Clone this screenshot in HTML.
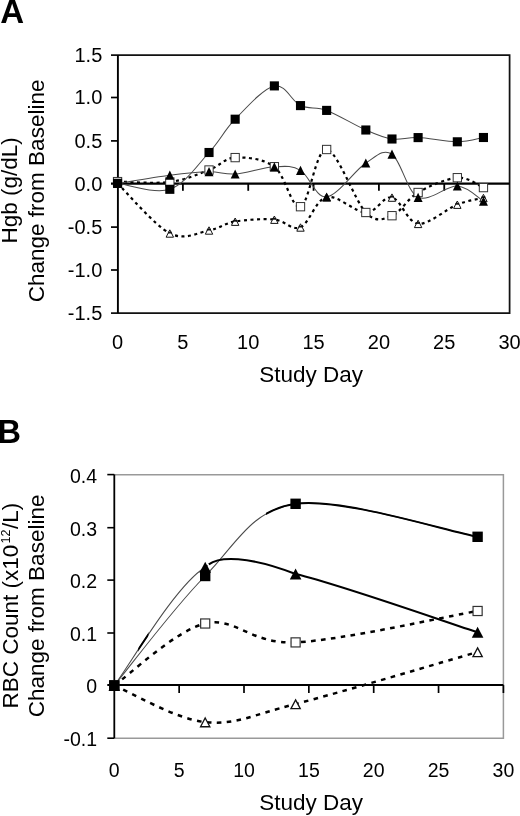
<!DOCTYPE html>
<html><head><meta charset="utf-8"><style>
html,body{margin:0;padding:0;background:#fff;}
body{width:520px;height:816px;overflow:hidden;}
svg{display:block;will-change:transform;}
</style></head><body>
<svg width="520" height="816" viewBox="0 0 520 816">
<text x="0.3" y="22.8" font-family="Liberation Sans, sans-serif" font-weight="bold" font-size="33">A</text>
<text x="102.3" y="61.9" font-family="Liberation Sans, sans-serif" font-size="20" text-anchor="end">1.5</text>
<text x="102.3" y="104.4" font-family="Liberation Sans, sans-serif" font-size="20" text-anchor="end">1.0</text>
<text x="102.3" y="147.8" font-family="Liberation Sans, sans-serif" font-size="20" text-anchor="end">0.5</text>
<text x="102.3" y="190.5" font-family="Liberation Sans, sans-serif" font-size="20" text-anchor="end">0.0</text>
<text x="102.3" y="234.0" font-family="Liberation Sans, sans-serif" font-size="20" text-anchor="end">-0.5</text>
<text x="102.3" y="276.9" font-family="Liberation Sans, sans-serif" font-size="20" text-anchor="end">-1.0</text>
<text x="102.3" y="319.9" font-family="Liberation Sans, sans-serif" font-size="20" text-anchor="end">-1.5</text>
<text x="117.5" y="348.5" font-family="Liberation Sans, sans-serif" font-size="20" text-anchor="middle">0</text>
<text x="182.9" y="348.5" font-family="Liberation Sans, sans-serif" font-size="20" text-anchor="middle">5</text>
<text x="248.2" y="348.5" font-family="Liberation Sans, sans-serif" font-size="20" text-anchor="middle">10</text>
<text x="313.6" y="348.5" font-family="Liberation Sans, sans-serif" font-size="20" text-anchor="middle">15</text>
<text x="378.9" y="348.5" font-family="Liberation Sans, sans-serif" font-size="20" text-anchor="middle">20</text>
<text x="444.2" y="348.5" font-family="Liberation Sans, sans-serif" font-size="20" text-anchor="middle">25</text>
<text x="509.6" y="348.5" font-family="Liberation Sans, sans-serif" font-size="20" text-anchor="middle">30</text>
<text x="311.2" y="381.6" font-family="Liberation Sans, sans-serif" font-size="22.5" text-anchor="middle">Study Day</text>
<text transform="translate(17.1,190.4) rotate(-90)" font-family="Liberation Sans, sans-serif" font-size="22.5" text-anchor="middle">Hgb (g/dL)</text>
<text transform="translate(43.8,190.9) rotate(-90)" font-family="Liberation Sans, sans-serif" font-size="22.5" text-anchor="middle">Change from Baseline</text>
<path d="M111,55 H509.6 V313 H111" fill="none" stroke="#111" stroke-width="1.75"/>
<path d="M117.9,55 V313" fill="none" stroke="#000" stroke-width="1.9"/>
<path d="M111,97.5 H118" stroke="#000" stroke-width="1.7"/>
<path d="M111,140.9 H118" stroke="#000" stroke-width="1.7"/>
<path d="M111,227.1 H118" stroke="#000" stroke-width="1.7"/>
<path d="M111,270.0 H118" stroke="#000" stroke-width="1.7"/>
<path d="M111,183.6 H509.6" stroke="#000" stroke-width="2.1"/>
<path d="M182.89,183.7 V190.8" stroke="#000" stroke-width="1.8"/>
<path d="M248.23,183.7 V190.8" stroke="#000" stroke-width="1.8"/>
<path d="M313.57,183.7 V190.8" stroke="#000" stroke-width="1.8"/>
<path d="M378.91,183.7 V190.8" stroke="#000" stroke-width="1.8"/>
<path d="M444.25,183.7 V190.8" stroke="#000" stroke-width="1.8"/>
<path d="M117.55,183.50 C126.26,191.80 154.58,225.50 169.82,233.30 C185.07,241.10 198.14,232.27 209.03,230.30 C219.92,228.33 224.27,223.30 235.16,221.50 C246.05,219.70 263.48,218.53 274.37,219.50 C285.26,220.47 291.79,231.05 300.50,227.30 C309.21,223.55 315.75,199.47 326.64,197.00 C337.53,194.53 354.95,212.43 365.84,212.50 C376.73,212.57 383.27,195.53 391.98,197.40 C400.69,199.27 407.22,222.52 418.11,223.70 C429.00,224.88 446.43,208.82 457.32,204.50 C468.21,200.18 479.10,198.92 483.45,197.80" fill="none" stroke="#000" stroke-width="2.2" stroke-dasharray="3 3.5"/>
<path d="M117.55,181.60 C126.26,181.67 154.58,183.93 169.82,182.00 C185.07,180.07 198.14,174.07 209.03,170.00 C219.92,165.93 224.27,158.15 235.16,157.60 C246.05,157.05 263.48,158.52 274.37,166.70 C285.26,174.88 291.79,209.57 300.50,206.70 C309.21,203.83 315.75,148.53 326.64,149.50 C337.53,150.47 354.95,201.47 365.84,212.50 C376.73,223.53 383.27,219.03 391.98,215.70 C400.69,212.37 407.22,198.83 418.11,192.50 C429.00,186.17 446.43,178.52 457.32,177.70 C468.21,176.88 479.10,185.95 483.45,187.60" fill="none" stroke="#000" stroke-width="2.2" stroke-dasharray="3 3.5"/>
<path d="M117.55,183.30 C126.26,184.30 154.58,194.43 169.82,189.30 C185.07,184.17 198.14,164.18 209.03,152.50 C219.92,140.82 224.27,130.30 235.16,119.20 C246.05,108.10 263.48,88.17 274.37,85.90 C285.26,83.63 291.79,101.52 300.50,105.60 C309.21,109.68 315.75,106.33 326.64,110.40 C337.53,114.47 354.95,125.23 365.84,130.00 C376.73,134.77 383.27,137.73 391.98,139.00 C400.69,140.27 407.22,137.13 418.11,137.60 C429.00,138.07 446.43,141.82 457.32,141.80 C468.21,141.78 479.10,138.22 483.45,137.50" fill="none" stroke="#4a4a4a" stroke-width="1.05"/>
<path d="M117.55,183.50 C126.26,182.12 154.58,177.17 169.82,175.20 C185.07,173.23 198.14,171.90 209.03,171.70 C219.92,171.50 224.27,174.82 235.16,174.00 C246.05,173.18 263.48,167.40 274.37,166.80 C285.26,166.20 291.79,165.37 300.50,170.40 C309.21,175.43 315.75,198.23 326.64,197.00 C337.53,195.77 354.95,170.13 365.84,163.00 C376.73,155.87 383.27,148.48 391.98,154.20 C400.69,159.92 407.22,192.00 418.11,197.30 C429.00,202.60 446.43,185.35 457.32,186.00 C468.21,186.65 479.10,198.67 483.45,201.20" fill="none" stroke="#4a4a4a" stroke-width="1.05"/>
<path d="M169.82,229.80 L173.52,237.20 L166.12,237.20 Z" fill="#fff" stroke="#111" stroke-width="1.0" stroke-linejoin="miter"/><rect x="167.93" y="231.70" width="3.78" height="1.8" fill="#111"/>
<path d="M209.03,226.80 L212.73,234.20 L205.33,234.20 Z" fill="#fff" stroke="#111" stroke-width="1.0" stroke-linejoin="miter"/><rect x="207.14" y="228.70" width="3.78" height="1.8" fill="#111"/>
<path d="M235.16,218.00 L238.86,225.40 L231.46,225.40 Z" fill="#fff" stroke="#111" stroke-width="1.0" stroke-linejoin="miter"/><rect x="233.27" y="219.90" width="3.78" height="1.8" fill="#111"/>
<path d="M274.37,216.00 L278.07,223.40 L270.67,223.40 Z" fill="#fff" stroke="#111" stroke-width="1.0" stroke-linejoin="miter"/><rect x="272.48" y="217.90" width="3.78" height="1.8" fill="#111"/>
<path d="M300.50,223.80 L304.20,231.20 L296.80,231.20 Z" fill="#fff" stroke="#111" stroke-width="1.0" stroke-linejoin="miter"/><rect x="298.61" y="225.70" width="3.78" height="1.8" fill="#111"/>
<path d="M326.64,193.50 L330.34,200.90 L322.94,200.90 Z" fill="#fff" stroke="#111" stroke-width="1.0" stroke-linejoin="miter"/><rect x="324.75" y="195.40" width="3.78" height="1.8" fill="#111"/>
<path d="M365.84,209.00 L369.54,216.40 L362.14,216.40 Z" fill="#fff" stroke="#111" stroke-width="1.0" stroke-linejoin="miter"/><rect x="363.95" y="210.90" width="3.78" height="1.8" fill="#111"/>
<path d="M391.98,193.90 L395.68,201.30 L388.28,201.30 Z" fill="#fff" stroke="#111" stroke-width="1.0" stroke-linejoin="miter"/><rect x="390.09" y="195.80" width="3.78" height="1.8" fill="#111"/>
<path d="M418.11,220.20 L421.81,227.60 L414.41,227.60 Z" fill="#fff" stroke="#111" stroke-width="1.0" stroke-linejoin="miter"/><rect x="416.22" y="222.10" width="3.78" height="1.8" fill="#111"/>
<path d="M457.32,201.00 L461.02,208.40 L453.62,208.40 Z" fill="#fff" stroke="#111" stroke-width="1.0" stroke-linejoin="miter"/><rect x="455.43" y="202.90" width="3.78" height="1.8" fill="#111"/>
<path d="M483.45,194.30 L487.15,201.70 L479.75,201.70 Z" fill="#fff" stroke="#111" stroke-width="1.0" stroke-linejoin="miter"/><rect x="481.56" y="196.20" width="3.78" height="1.8" fill="#111"/>
<rect x="113.40" y="177.45" width="8.30" height="8.30" fill="#fff" stroke="#333" stroke-width="1.0"/>
<rect x="165.67" y="177.85" width="8.30" height="8.30" fill="#fff" stroke="#333" stroke-width="1.0"/>
<rect x="204.88" y="165.85" width="8.30" height="8.30" fill="#fff" stroke="#333" stroke-width="1.0"/>
<rect x="231.01" y="153.45" width="8.30" height="8.30" fill="#fff" stroke="#333" stroke-width="1.0"/>
<rect x="270.22" y="162.55" width="8.30" height="8.30" fill="#fff" stroke="#333" stroke-width="1.0"/>
<rect x="296.35" y="202.55" width="8.30" height="8.30" fill="#fff" stroke="#333" stroke-width="1.0"/>
<rect x="322.49" y="145.35" width="8.30" height="8.30" fill="#fff" stroke="#333" stroke-width="1.0"/>
<rect x="361.69" y="208.35" width="8.30" height="8.30" fill="#fff" stroke="#333" stroke-width="1.0"/>
<rect x="387.83" y="211.55" width="8.30" height="8.30" fill="#fff" stroke="#333" stroke-width="1.0"/>
<rect x="413.96" y="188.35" width="8.30" height="8.30" fill="#fff" stroke="#333" stroke-width="1.0"/>
<rect x="453.17" y="173.55" width="8.30" height="8.30" fill="#fff" stroke="#333" stroke-width="1.0"/>
<rect x="479.30" y="183.45" width="8.30" height="8.30" fill="#fff" stroke="#333" stroke-width="1.0"/>
<rect x="113.00" y="178.75" width="9.1" height="9.1" fill="#000"/>
<rect x="165.27" y="184.75" width="9.1" height="9.1" fill="#000"/>
<rect x="204.48" y="147.95" width="9.1" height="9.1" fill="#000"/>
<rect x="230.61" y="114.65" width="9.1" height="9.1" fill="#000"/>
<rect x="269.82" y="81.35" width="9.1" height="9.1" fill="#000"/>
<rect x="295.95" y="101.05" width="9.1" height="9.1" fill="#000"/>
<rect x="322.09" y="105.85" width="9.1" height="9.1" fill="#000"/>
<rect x="361.29" y="125.45" width="9.1" height="9.1" fill="#000"/>
<rect x="387.43" y="134.45" width="9.1" height="9.1" fill="#000"/>
<rect x="413.56" y="133.05" width="9.1" height="9.1" fill="#000"/>
<rect x="452.77" y="137.25" width="9.1" height="9.1" fill="#000"/>
<rect x="478.90" y="132.95" width="9.1" height="9.1" fill="#000"/>
<path d="M117.55,178.90 L122.05,188.10 L113.05,188.10 Z" fill="#000"/>
<path d="M169.82,170.60 L174.32,179.80 L165.32,179.80 Z" fill="#000"/>
<path d="M209.03,167.10 L213.53,176.30 L204.53,176.30 Z" fill="#000"/>
<path d="M235.16,169.40 L239.66,178.60 L230.66,178.60 Z" fill="#000"/>
<path d="M274.37,162.20 L278.87,171.40 L269.87,171.40 Z" fill="#000"/>
<path d="M300.50,165.80 L305.00,175.00 L296.00,175.00 Z" fill="#000"/>
<path d="M326.64,192.40 L331.14,201.60 L322.14,201.60 Z" fill="#000"/>
<path d="M365.84,158.40 L370.34,167.60 L361.34,167.60 Z" fill="#000"/>
<path d="M391.98,149.60 L396.48,158.80 L387.48,158.80 Z" fill="#000"/>
<path d="M418.11,192.70 L422.61,201.90 L413.61,201.90 Z" fill="#000"/>
<path d="M457.32,181.40 L461.82,190.60 L452.82,190.60 Z" fill="#000"/>
<path d="M483.45,196.60 L487.95,205.80 L478.95,205.80 Z" fill="#000"/>
<text x="-2.6" y="442.5" font-family="Liberation Sans, sans-serif" font-weight="bold" font-size="32.5">B</text>
<text x="97.0" y="482.5" font-family="Liberation Sans, sans-serif" font-size="19.5" text-anchor="end">0.4</text>
<text x="97.0" y="535.6" font-family="Liberation Sans, sans-serif" font-size="19.5" text-anchor="end">0.3</text>
<text x="97.0" y="588.0" font-family="Liberation Sans, sans-serif" font-size="19.5" text-anchor="end">0.2</text>
<text x="97.0" y="640.9" font-family="Liberation Sans, sans-serif" font-size="19.5" text-anchor="end">0.1</text>
<text x="97.0" y="693.4" font-family="Liberation Sans, sans-serif" font-size="19.5" text-anchor="end">0</text>
<text x="97.0" y="746.1" font-family="Liberation Sans, sans-serif" font-size="19.5" text-anchor="end">-0.1</text>
<text x="114.3" y="776.9" font-family="Liberation Sans, sans-serif" font-size="19.5" text-anchor="middle">0</text>
<text x="179.2" y="776.9" font-family="Liberation Sans, sans-serif" font-size="19.5" text-anchor="middle">5</text>
<text x="244.0" y="776.9" font-family="Liberation Sans, sans-serif" font-size="19.5" text-anchor="middle">10</text>
<text x="308.9" y="776.9" font-family="Liberation Sans, sans-serif" font-size="19.5" text-anchor="middle">15</text>
<text x="373.7" y="776.9" font-family="Liberation Sans, sans-serif" font-size="19.5" text-anchor="middle">20</text>
<text x="438.6" y="776.9" font-family="Liberation Sans, sans-serif" font-size="19.5" text-anchor="middle">25</text>
<text x="503.4" y="776.9" font-family="Liberation Sans, sans-serif" font-size="19.5" text-anchor="middle">30</text>
<text x="311.2" y="810.0" font-family="Liberation Sans, sans-serif" font-size="22.5" text-anchor="middle">Study Day</text>
<text transform="translate(17.9,605.6) rotate(-90)" font-family="Liberation Sans, sans-serif" font-size="22.5" text-anchor="middle">RBC Count (x10<tspan font-size="12.5" dx="1.2" dy="-7.8">12</tspan><tspan dx="0.6" dy="7.8">/L)</tspan></text>
<text transform="translate(44.4,605.9) rotate(-90)" font-family="Liberation Sans, sans-serif" font-size="22.5" text-anchor="middle">Change from Baseline</text>
<path d="M114.3,474.7 H503.4 V738.2 H114.3" fill="none" stroke="#999" stroke-width="1.5"/>
<path d="M114.3,474.6 V738.2" stroke="#000" stroke-width="1.8"/>
<path d="M107.3,474.6 H114.3" stroke="#000" stroke-width="1.6"/>
<path d="M107.3,527.7 H114.3" stroke="#000" stroke-width="1.6"/>
<path d="M107.3,580.1 H114.3" stroke="#000" stroke-width="1.6"/>
<path d="M107.3,633.0 H114.3" stroke="#000" stroke-width="1.6"/>
<path d="M107.3,738.2 H114.3" stroke="#000" stroke-width="1.6"/>
<path d="M107.3,685.1 H503.4" stroke="#000" stroke-width="2"/>
<path d="M179.15,685.1 V693" stroke="#000" stroke-width="1.7"/>
<path d="M244.00,685.1 V693" stroke="#000" stroke-width="1.7"/>
<path d="M308.85,685.1 V693" stroke="#000" stroke-width="1.7"/>
<path d="M373.70,685.1 V693" stroke="#000" stroke-width="1.7"/>
<path d="M438.55,685.1 V693" stroke="#000" stroke-width="1.7"/>
<path d="M503.40,685.1 V693" stroke="#000" stroke-width="1.7"/>
<defs><clipPath id="cfs"><rect x="266" y="400" width="300" height="400"/></clipPath><clipPath id="cft"><rect x="100" y="400" width="108" height="400"/></clipPath><clipPath id="cft2"><rect x="138.2" y="600" width="10.3" height="60"/></clipPath></defs>
<path d="M114.30,685.40 C129.45,691.52 174.98,719.00 205.20,722.10 C235.42,725.20 250.20,715.68 295.60,704.00 C341.00,692.32 447.27,660.67 477.60,652.00" fill="none" stroke="#000" stroke-width="2.5" stroke-dasharray="4.6 5.4"/>
<path d="M114.30,685.40 C129.45,675.08 174.98,630.67 205.20,623.50 C235.42,616.33 250.20,644.48 295.60,642.40 C341.00,640.32 447.27,616.23 477.60,611.00" fill="none" stroke="#000" stroke-width="2.5" stroke-dasharray="4.6 5.4"/>
<path d="M114.30,685.40 C129.45,667.17 174.98,606.27 205.20,576.00 C235.42,545.73 250.20,510.33 295.60,503.80 C341.00,497.27 447.27,531.30 477.60,536.80" fill="none" stroke="#4a4a4a" stroke-width="1.05"/>
<path d="M114.30,685.40 C129.45,667.17 174.98,606.27 205.20,576.00 C235.42,545.73 250.20,510.33 295.60,503.80 C341.00,497.27 447.27,531.30 477.60,536.80" fill="none" stroke="#000" stroke-width="2" clip-path="url(#cfs)"/>
<path d="M114.30,685.40 C129.45,665.72 174.98,585.87 205.20,567.30 C235.42,548.73 250.20,563.17 295.60,574.00 C341.00,584.83 447.27,622.58 477.60,632.30" fill="none" stroke="#4a4a4a" stroke-width="1.05" clip-path="url(#cft)"/>
<path d="M114.30,685.40 C129.45,665.72 174.98,585.87 205.20,567.30 C235.42,548.73 250.20,563.17 295.60,574.00 C341.00,584.83 447.27,622.58 477.60,632.30" fill="none" stroke="#000" stroke-width="2" clip-path="url(#cft2)"/>
<path d="M208.8,564.4 C219,556.5 248,555.5 295.6,574 C341,584.8 447.3,622.6 477.6,632.3" fill="none" stroke="#000" stroke-width="2"/>
<path d="M205.20,717.97 L209.86,726.75 L200.54,726.75 Z" fill="#fff" stroke="#111" stroke-width="1.3" stroke-linejoin="miter"/>
<path d="M295.60,699.87 L300.26,708.65 L290.94,708.65 Z" fill="#fff" stroke="#111" stroke-width="1.3" stroke-linejoin="miter"/>
<path d="M477.60,647.87 L482.26,656.65 L472.94,656.65 Z" fill="#fff" stroke="#111" stroke-width="1.3" stroke-linejoin="miter"/>
<rect x="109.75" y="680.85" width="9.10" height="9.10" fill="#fff" stroke="#333" stroke-width="1.2"/>
<rect x="200.65" y="618.95" width="9.10" height="9.10" fill="#fff" stroke="#333" stroke-width="1.2"/>
<rect x="291.05" y="637.85" width="9.10" height="9.10" fill="#fff" stroke="#333" stroke-width="1.2"/>
<rect x="473.05" y="606.45" width="9.10" height="9.10" fill="#fff" stroke="#333" stroke-width="1.2"/>
<rect x="109.10" y="680.20" width="10.4" height="10.4" fill="#000"/>
<rect x="200.00" y="570.80" width="10.4" height="10.4" fill="#000"/>
<rect x="290.40" y="498.60" width="10.4" height="10.4" fill="#000"/>
<rect x="472.40" y="531.60" width="10.4" height="10.4" fill="#000"/>
<path d="M114.30,679.90 L120.10,690.90 L108.50,690.90 Z" fill="#000"/>
<path d="M205.20,561.80 L211.00,572.80 L199.40,572.80 Z" fill="#000"/>
<path d="M295.60,568.50 L301.40,579.50 L289.80,579.50 Z" fill="#000"/>
<path d="M477.60,626.80 L483.40,637.80 L471.80,637.80 Z" fill="#000"/>
</svg>
</body></html>
